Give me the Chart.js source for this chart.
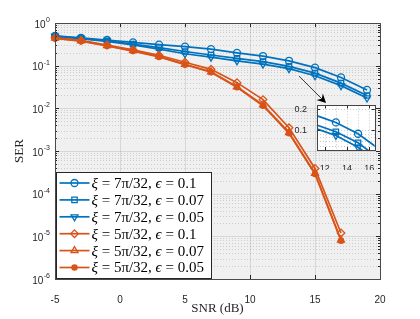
<!DOCTYPE html>
<html><head><meta charset="utf-8">
<script src="https://cdn.jsdelivr.net/npm/chart.js@4/dist/chart.umd.min.js"></script>
<style>
html,body{margin:0;padding:0;background:#fff;}
#wrap{position:relative;width:420px;height:319px;overflow:hidden;}
#mainBox{position:absolute;left:0;top:0;width:420px;height:319px;}
#insetBox{position:absolute;left:290px;top:100px;width:90px;height:70px;}
</style></head><body>
<div id="wrap">
  <div id="mainBox"><canvas id="main"></canvas></div>
  <div id="insetBox"><canvas id="inset"></canvas></div>
</div>
<script>
// ---- data ----
const snrBlue = [-5,-3,-1,1,3,5,7,9,11,13,15,17,19];
const snrOrange = [-5,-3,-1,1,3,5,7,9,11,13,15,17];
const serXi7Eps010 = [0.50,0.45,0.40,0.35,0.31,0.28,0.245,0.20,0.168,0.13,0.09,0.053,0.027];
const serXi7Eps007 = [0.49,0.435,0.38,0.32,0.265,0.215,0.178,0.148,0.124,0.096,0.067,0.039,0.020];
const serXi7Eps005 = [0.485,0.43,0.37,0.305,0.245,0.19,0.158,0.13,0.109,0.085,0.058,0.034,0.0175];
const serXi5Eps010 = [0.45,0.39,0.305,0.235,0.175,0.12,0.082,0.040,0.016,0.0035,3.9e-4,1.2e-5];
const serXi5Eps007 = [0.44,0.38,0.295,0.225,0.165,0.108,0.072,0.032,0.012,0.0027,3.0e-4,8.2e-6];
const serXi5Eps005 = [0.435,0.375,0.29,0.22,0.16,0.105,0.070,0.031,0.0115,0.0026,2.9e-4,7.9e-6];
const seriesXi = ['7π/32','7π/32','7π/32','5π/32','5π/32','5π/32'];
const seriesEps = ['0.1','0.07','0.05','0.1','0.07','0.05'];
const xTicks = [-5,0,5,10,15,20];
const xTickLabels = ['-5','0','5','10','15','20'];
const yTicks = [1e-6,1e-5,1e-4,1e-3,1e-2,1e-1,1];
const yTickBase = '10';
const yTickExponents = ['-6','-5','-4','-3','-2','-1','0'];
const insetXTicks = [12,14,16];
const insetXTickLabels = ['12','14','16'];
const insetYTicks = [0.1,0.2];
const insetYTickLabels = ['0.1','0.2'];
const arrowFrom = [13.77, 0.057];
const arrowTo = [15.85, 0.0133];

const BLUE = '#0072BD', ORANGE = '#D95319', AX = '#262626';
const SANS = '"Liberation Sans", Arial, sans-serif';
const SERIF = '"Liberation Serif", "DejaVu Serif", serif';
const styles = [
  {c:BLUE, ps:'circle', r:3.5, rot:0, fill:false},
  {c:BLUE, ps:'rect', r:3.8, rot:0, fill:false},
  {c:BLUE, ps:'triangle', r:4, rot:180, fill:false},
  {c:ORANGE, ps:'rectRot', r:3.8, rot:0, fill:false},
  {c:ORANGE, ps:'triangle', r:4, rot:0, fill:false},
  {c:ORANGE, ps:'circle', r:2.6, rot:0, fill:true}
];
const xs = [snrBlue,snrBlue,snrBlue,snrOrange,snrOrange,snrOrange];
const ys = [serXi7Eps010,serXi7Eps007,serXi7Eps005,serXi5Eps010,serXi5Eps007,serXi5Eps005];

function makeSets(idx, clip){
  return idx.map(i => ({
    label: 'ξ = ' + seriesXi[i] + ', ϵ = ' + seriesEps[i],
    data: xs[i].map((x,k)=>({x:x, y:ys[i][k]})),
    borderColor: styles[i].c, borderWidth: 1.7,
    pointStyle: styles[i].ps, pointRadius: styles[i].r, pointRotation: styles[i].rot,
    pointBorderColor: styles[i].c, pointBorderWidth: 1.3,
    pointBackgroundColor: styles[i].fill ? styles[i].c : 'rgba(0,0,0,0)',
    tension: 0, clip: clip, order: 6 - i
  }));
}

function drawMarker(ctx, st, x, y){
  ctx.save();
  ctx.strokeStyle = st.c; ctx.lineWidth = 1.3;
  ctx.fillStyle = st.fill ? st.c : 'rgba(0,0,0,0)';
  ctx.beginPath();
  const r = st.r;
  if (st.ps === 'circle') { ctx.arc(x,y,r,0,Math.PI*2); }
  else if (st.ps === 'rect') { const s = r*Math.SQRT1_2; ctx.rect(x-s,y-s,2*s,2*s); }
  else if (st.ps === 'rectRot') { ctx.moveTo(x,y-r); ctx.lineTo(x+r,y); ctx.lineTo(x,y+r); ctx.lineTo(x-r,y); ctx.closePath(); }
  else if (st.ps === 'triangle') {
    const d = st.rot ? -1 : 1;
    ctx.moveTo(x, y - d*r); ctx.lineTo(x + r*0.866, y + d*r*0.5); ctx.lineTo(x - r*0.866, y + d*r*0.5); ctx.closePath();
  }
  if (st.fill) ctx.fill();
  ctx.stroke();
  ctx.restore();
}

function hline(ctx, a, py){ ctx.beginPath(); ctx.moveTo(a.left, py); ctx.lineTo(a.right, py); ctx.stroke(); }
function vline(ctx, a, px){ ctx.beginPath(); ctx.moveTo(px, a.top); ctx.lineTo(px, a.bottom); ctx.stroke(); }
function fitX(h){ return s => { s.height = h; s.paddingLeft = 0; s.paddingRight = 0; }; }
function fitY(w){ return s => { s.width = w; s.paddingTop = 0; s.paddingBottom = 0; }; }

const mainFrame = {
  id: 'mainFrame',
  beforeDatasetsDraw(chart){
    const {ctx, chartArea:a, scales:{x, y}} = chart;
    ctx.save();
    ctx.fillStyle = '#f0f0f0';
    ctx.fillRect(a.left, a.top, a.right-a.left, a.bottom-a.top);
    ctx.lineWidth = 1;
    ctx.strokeStyle = 'rgba(38,38,38,0.17)';
    ctx.setLineDash([1,2]);
    for (let d = 0; d < yTicks.length-1; d++) {
      for (let k = 2; k <= 9; k++) {
        hline(ctx, a, Math.round(y.getPixelForValue(k*yTicks[d])) + 0.5);
      }
    }
    ctx.setLineDash([]);
    ctx.strokeStyle = 'rgba(38,38,38,0.12)';
    yTicks.forEach(v => hline(ctx, a, Math.round(y.getPixelForValue(v))+0.5));
    xTicks.forEach(v => vline(ctx, a, Math.round(x.getPixelForValue(v))+0.5));
    ctx.restore();
  },
  afterDatasetsDraw(chart){
    const {ctx, chartArea:a, scales:{x, y}} = chart;
    ctx.save();
    ctx.strokeStyle = AX; ctx.lineWidth = 1;
    ctx.beginPath();
    xTicks.forEach(v => {
      const px = Math.round(x.getPixelForValue(v))+0.5;
      ctx.moveTo(px, a.bottom); ctx.lineTo(px, a.bottom-4);
      ctx.moveTo(px, a.top); ctx.lineTo(px, a.top+4);
    });
    yTicks.forEach(v => {
      const py = Math.round(y.getPixelForValue(v))+0.5;
      ctx.moveTo(a.left, py); ctx.lineTo(a.left+4, py);
      ctx.moveTo(a.right, py); ctx.lineTo(a.right-4, py);
    });
    for (let d = 0; d < yTicks.length-1; d++) for (let k = 2; k <= 9; k++) {
      const py = Math.round(y.getPixelForValue(k*yTicks[d]))+0.5;
      ctx.moveTo(a.left, py); ctx.lineTo(a.left+2, py);
      ctx.moveTo(a.right, py); ctx.lineTo(a.right-2, py);
    }
    ctx.stroke();
    ctx.strokeStyle = '#4a4a4a';
    ctx.strokeRect(Math.round(a.left)+0.5, Math.round(a.top)+0.5, Math.round(a.right-a.left), Math.round(a.bottom-a.top));
    ctx.fillStyle = AX; ctx.textBaseline = 'middle'; ctx.textAlign = 'right';
    const rx = a.left - 5;
    yTicks.forEach((v, i) => {
      const py = y.getPixelForValue(v);
      ctx.font = '7px ' + SANS;
      const ew = ctx.measureText(yTickExponents[i]).width;
      ctx.fillText(yTickExponents[i], rx, py - 3);
      ctx.font = '10px ' + SANS;
      ctx.fillText(yTickBase, rx - ew - 0.5, py + 2);
    });
    const x0 = x.getPixelForValue(arrowFrom[0]), y0 = y.getPixelForValue(arrowFrom[1]);
    const x1 = x.getPixelForValue(arrowTo[0]), y1 = y.getPixelForValue(arrowTo[1]);
    const ang = Math.atan2(y1-y0, x1-x0);
    const L = 9, W = 4.5;
    const bx = x1 - L*Math.cos(ang), by = y1 - L*Math.sin(ang);
    ctx.strokeStyle = '#222'; ctx.lineWidth = 0.9;
    ctx.beginPath(); ctx.moveTo(x0,y0); ctx.lineTo(bx + 3*Math.cos(ang), by + 3*Math.sin(ang)); ctx.stroke();
    ctx.fillStyle = '#000';
    ctx.beginPath();
    ctx.moveTo(x1,y1);
    ctx.lineTo(bx - W*Math.sin(ang), by + W*Math.cos(ang));
    ctx.lineTo(bx + 3*Math.cos(ang), by + 3*Math.sin(ang));
    ctx.lineTo(bx + W*Math.sin(ang), by - W*Math.cos(ang));
    ctx.closePath(); ctx.fill();
    ctx.restore();
  },
  afterDraw(chart){
    const {ctx, chartArea:a} = chart;
    ctx.save();
    const left = Math.round(a.left)+1.5, bottom = Math.round(a.bottom)-0.5;
    const w = 155, h = 106, top = bottom - h;
    ctx.fillStyle = '#fff'; ctx.fillRect(left, top, w, h);
    ctx.strokeStyle = AX; ctx.lineWidth = 1; ctx.strokeRect(left, top, w, h);
    const fs = 15;
    const it = 'italic ' + fs + 'px ' + SERIF;
    const rm = fs + 'px ' + SERIF;
    ctx.textBaseline = 'middle'; ctx.textAlign = 'left';
    for (let i = 0; i < 6; i++) {
      const cy = top + 10.5 + i*16.9;
      ctx.strokeStyle = styles[i].c; ctx.lineWidth = 1.7;
      ctx.beginPath(); ctx.moveTo(left+3, cy); ctx.lineTo(left+33, cy); ctx.stroke();
      drawMarker(ctx, styles[i], left+18, cy);
      let tx = left + 35;
      const segs = [[it,'ξ'],[rm,' = ' + seriesXi[i] + ', '],[it,'ϵ'],[rm,' = ' + seriesEps[i]]];
      ctx.fillStyle = '#000';
      segs.forEach(s => { ctx.font = s[0]; ctx.fillText(s[1], tx, cy+1); tx += ctx.measureText(s[1]).width; });
    }
    ctx.restore();
  }
};

new Chart(document.getElementById('main'), {
  type: 'line',
  data: { datasets: makeSets([0,1,2,3,4,5], false) },
  options: {
    responsive: true, maintainAspectRatio: false, animation: false, devicePixelRatio: 1,
    layout: { padding: { top: 23, right: 40, left: 0, bottom: 0 } },
    plugins: { legend: { display: false }, tooltip: { enabled: false } },
    scales: {
      x: {
        type: 'linear', min: -5, max: 20,
        afterBuildTicks: s => { s.ticks = xTicks.map(v => ({value: v})); },
        afterFit: fitX(40),
        grid: { display: false }, border: { display: false },
        ticks: { color: AX, font: { size: 10, family: SANS }, padding: 7, maxRotation: 0,
          callback: (v, i) => xTickLabels[i] },
        title: { display: true, text: 'SNR (dB)', color: AX, padding: { top: 0, bottom: 3 },
          font: { size: 13, family: SERIF } }
      },
      y: {
        type: 'logarithmic', min: 1e-6, max: 1,
        afterBuildTicks: s => { s.ticks = yTicks.map(v => ({value: v})); },
        afterFit: fitY(55),
        grid: { display: false }, border: { display: false },
        ticks: { display: false },
        title: { display: true, text: 'SER', color: AX, padding: { top: 12, bottom: 0 },
          font: { size: 13, family: SERIF } }
      }
    }
  },
  plugins: [mainFrame]
});

const insetFrame = {
  id: 'insetFrame',
  beforeDatasetsDraw(chart){
    const {ctx, chartArea:a, scales:{x, y}} = chart;
    ctx.save();
    ctx.fillStyle = '#fff';
    ctx.fillRect(a.left, a.top, a.right-a.left, a.bottom-a.top);
    ctx.strokeStyle = 'rgba(38,38,38,0.25)'; ctx.lineWidth = 1; ctx.setLineDash([1,2]);
    [0.06,0.07,0.08,0.09,0.1,0.2].forEach(v => hline(ctx, a, Math.round(y.getPixelForValue(v))+0.5));
    [12,13,14,15,16].forEach(v => vline(ctx, a, Math.round(x.getPixelForValue(v))+0.5));
    ctx.restore();
  },
  afterDatasetsDraw(chart){
    const {ctx, chartArea:a, scales:{x, y}} = chart;
    ctx.save();
    ctx.strokeStyle = AX; ctx.lineWidth = 1;
    ctx.beginPath();
    insetXTicks.forEach(v => { const px = Math.round(x.getPixelForValue(v))+0.5;
      ctx.moveTo(px, a.bottom); ctx.lineTo(px, a.bottom-3); ctx.moveTo(px, a.top); ctx.lineTo(px, a.top+3); });
    insetYTicks.forEach(v => { const py = Math.round(y.getPixelForValue(v))+0.5;
      ctx.moveTo(a.left, py); ctx.lineTo(a.left+3, py); ctx.moveTo(a.right, py); ctx.lineTo(a.right-3, py); });
    ctx.stroke();
    ctx.strokeStyle = '#444';
    ctx.strokeRect(Math.round(a.left)+0.5, Math.round(a.top)+0.5, Math.round(a.right-a.left), Math.round(a.bottom-a.top));
    ctx.restore();
  }
};

new Chart(document.getElementById('inset'), {
  type: 'line',
  data: { datasets: makeSets([0,1,2], true) },
  options: {
    responsive: true, maintainAspectRatio: false, animation: false, devicePixelRatio: 1,
    layout: { padding: { top: 5, right: 4, left: 0, bottom: 0 } },
    plugins: { legend: { display: false }, tooltip: { enabled: false } },
    scales: {
      x: {
        type: 'linear', min: 11.3, max: 16.5,
        afterBuildTicks: s => { s.ticks = insetXTicks.map(v => ({value: v})); },
        afterFit: fitX(20),
        grid: { display: false }, border: { display: false },
        ticks: { color: AX, font: { size: 9, family: SANS }, padding: 5, maxRotation: 0,
          callback: (v, i) => insetXTickLabels[i] }
      },
      y: {
        type: 'logarithmic', min: 0.053, max: 0.227,
        afterBuildTicks: s => { s.ticks = insetYTicks.map(v => ({value: v})); },
        afterFit: fitY(27),
        grid: { display: false }, border: { display: false },
        ticks: { color: AX, font: { size: 9, family: SANS }, padding: 2, autoSkip: false,
          callback: (v, i) => insetYTickLabels[i] }
      }
    }
  },
  plugins: [insetFrame]
});
</script>
</body></html>
